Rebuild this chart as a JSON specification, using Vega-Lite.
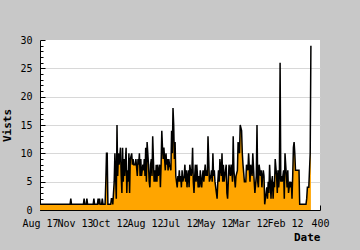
{
  "$schema": "https://vega.github.io/schema/vega-lite/v6.json",
  "width": 280,
  "height": 170,
  "autosize": {"type": "none"},
  "padding": {"left": 40, "top": 40, "right": 40, "bottom": 40},
  "background": "#c8c8c8",
  "config": {
    "view": {"fill": "white", "stroke": null},
    "font": "DejaVu Sans Mono",
    "axis": {"labelColor": "black", "titleColor": "black", "domainColor": "black", "tickColor": "black", "labelFont": "DejaVu Sans Mono", "titleFont": "DejaVu Sans Mono"},
    "axisX": {"labelOverlap": false, "labelFlush": false, "labelBound": false}
  },
  "data": {"values": [
    {"i":0,"v":1},{"i":43,"v":1},{"i":44,"v":2},{"i":45,"v":1},{"i":62,"v":1},{"i":63,"v":2},{"i":64,"v":1},{"i":66,"v":1},{"i":67,"v":2},{"i":68,"v":1},
    {"i":76,"v":1},{"i":77,"v":2},{"i":78,"v":1},{"i":82,"v":1},{"i":83,"v":2},{"i":84,"v":1},{"i":85,"v":2},{"i":86,"v":1},{"i":88,"v":1},{"i":89,"v":2},{"i":90,"v":1},
    {"i":93,"v":1},{"i":94,"v":5},{"i":95,"v":10},{"i":96,"v":10},{"i":97,"v":1},{"i":101,"v":1},
    {"i":102,"v":2},{"i":103,"v":2},{"i":104,"v":1},{"i":106,"v":5},{"i":107,"v":10},{"i":108,"v":6},{"i":109,"v":2},{"i":110,"v":15},
    {"i":111,"v":6},{"i":112,"v":10},{"i":113,"v":8},{"i":115,"v":11},{"i":116,"v":6},{"i":117,"v":3},{"i":118,"v":11},{"i":119,"v":5},{"i":120,"v":9},{"i":121,"v":6},
    {"i":123,"v":11},{"i":124,"v":3},{"i":125,"v":7},{"i":126,"v":5},{"i":127,"v":10},{"i":128,"v":3},{"i":129,"v":9},{"i":131,"v":10},{"i":132,"v":8},{"i":133,"v":9},
    {"i":134,"v":8},{"i":135,"v":8},{"i":136,"v":8},{"i":137,"v":9},{"i":139,"v":6},{"i":140,"v":9},{"i":141,"v":8},{"i":142,"v":10},{"i":143,"v":6},{"i":144,"v":9},
    {"i":145,"v":6},{"i":147,"v":8},{"i":148,"v":7},{"i":149,"v":9},{"i":150,"v":6},{"i":151,"v":11},{"i":152,"v":5},{"i":153,"v":12},{"i":155,"v":8},{"i":156,"v":5},
    {"i":157,"v":4},{"i":158,"v":8},{"i":159,"v":9},{"i":160,"v":6},{"i":161,"v":13},{"i":163,"v":5},{"i":164,"v":7},{"i":165,"v":5},{"i":166,"v":8},{"i":167,"v":5},
    {"i":168,"v":8},{"i":169,"v":6},{"i":171,"v":8},{"i":172,"v":4},{"i":173,"v":8},{"i":174,"v":14},{"i":175,"v":11},{"i":176,"v":9},{"i":177,"v":11},{"i":179,"v":7},
    {"i":180,"v":10},{"i":181,"v":8},{"i":182,"v":9},{"i":183,"v":7},{"i":184,"v":9},{"i":185,"v":8},{"i":187,"v":7},{"i":188,"v":14},{"i":189,"v":10},{"i":190,"v":18},
    {"i":191,"v":15},{"i":192,"v":9},{"i":193,"v":12},{"i":194,"v":6},{"i":196,"v":4},{"i":197,"v":6},{"i":198,"v":5},{"i":199,"v":7},{"i":200,"v":5},{"i":201,"v":6},
    {"i":202,"v":4},{"i":203,"v":7},{"i":204,"v":5},{"i":206,"v":6},{"i":207,"v":8},{"i":208,"v":5},{"i":209,"v":7},{"i":210,"v":4},{"i":211,"v":6},{"i":212,"v":7},
    {"i":213,"v":4},{"i":214,"v":8},{"i":216,"v":6},{"i":217,"v":7},{"i":218,"v":11},{"i":219,"v":5},{"i":220,"v":3},{"i":221,"v":6},{"i":222,"v":8},{"i":223,"v":5},
    {"i":224,"v":8},{"i":226,"v":4},{"i":227,"v":6},{"i":228,"v":4},{"i":229,"v":7},{"i":230,"v":5},{"i":231,"v":4},{"i":232,"v":6},{"i":233,"v":7},{"i":234,"v":5},
    {"i":236,"v":8},{"i":237,"v":6},{"i":238,"v":7},{"i":239,"v":6},{"i":240,"v":13},
    {"i":241,"v":9},{"i":242,"v":5},{"i":244,"v":6},{"i":245,"v":7},{"i":246,"v":5},{"i":247,"v":10},{"i":248,"v":6},{"i":249,"v":7},{"i":250,"v":5},{"i":252,"v":3},
    {"i":253,"v":2},{"i":254,"v":5},{"i":255,"v":7},{"i":256,"v":5},{"i":257,"v":9},{"i":259,"v":6},{"i":260,"v":10},{"i":261,"v":5},{"i":262,"v":8},{"i":263,"v":5},
    {"i":265,"v":7},{"i":266,"v":8},{"i":267,"v":3},{"i":268,"v":2},{"i":269,"v":5},{"i":270,"v":8},{"i":272,"v":6},{"i":273,"v":8},{"i":274,"v":7},{"i":275,"v":5},
    {"i":276,"v":13},{"i":277,"v":7},{"i":279,"v":4},{"i":280,"v":6},{"i":282,"v":7},{"i":283,"v":12},{"i":285,"v":10},{"i":286,"v":15},
    {"i":288,"v":14},{"i":289,"v":10},{"i":290,"v":8},{"i":292,"v":5},{"i":294,"v":5},{"i":295,"v":8},{"i":297,"v":7},{"i":298,"v":10},{"i":300,"v":5},{"i":301,"v":8},
    {"i":303,"v":6},{"i":304,"v":10},{"i":306,"v":5},{"i":307,"v":3},{"i":309,"v":6},{"i":310,"v":15},
    {"i":311,"v":5},{"i":312,"v":4},{"i":313,"v":8},{"i":315,"v":6},{"i":316,"v":7},{"i":317,"v":4},{"i":318,"v":6},{"i":319,"v":7},{"i":320,"v":6},{"i":321,"v":1},
    {"i":323,"v":3},{"i":324,"v":4},{"i":325,"v":2},{"i":326,"v":5},{"i":327,"v":3},{"i":328,"v":8},{"i":330,"v":2},{"i":331,"v":5},{"i":332,"v":6},{"i":333,"v":2},
    {"i":334,"v":5},{"i":335,"v":4},{"i":336,"v":9},{"i":338,"v":6},{"i":339,"v":3},{"i":340,"v":7},{"i":341,"v":4},{"i":342,"v":6},{"i":343,"v":26},
    {"i":344,"v":5},{"i":345,"v":6},{"i":346,"v":5},{"i":348,"v":7},{"i":349,"v":2},{"i":350,"v":10},{"i":352,"v":6},{"i":353,"v":4},{"i":354,"v":7},{"i":355,"v":3},
    {"i":357,"v":5},{"i":358,"v":4},{"i":359,"v":5},{"i":360,"v":2},{"i":361,"v":6},{"i":362,"v":11},{"i":363,"v":12},{"i":364,"v":10},{"i":365,"v":7},{"i":368,"v":7},
    {"i":370,"v":7},{"i":371,"v":1},{"i":380,"v":1},{"i":381,"v":2},{"i":382,"v":4},{"i":384,"v":4},{"i":386,"v":10},{"i":387,"v":29}
  ]},
  "layer": [
    {
      "mark": {"type": "area", "color": "#ffa500"},
      "encoding": {
        "x": {"field": "i", "type": "quantitative", "scale": {"domain": [0, 400], "nice": false},
          "axis": {"values": [0,50,100,150,200,250,300,350,400], "tickSize": -5, "labelPadding": 13, "grid": false,
            "labelExpr": "['Aug 17','Nov 13','Oct 12','Aug 12','Jul 12','May 12','Mar 12','Feb 12','400'][round(datum.value/50)]",
            "labelOverlap": false, "labelFlush": false, "labelBound": false, "labelFontSize": 10,
            "title": "Date", "titleFontSize": 11, "titleFontWeight": "bold", "titleAnchor": "end", "titlePadding": 3}},
        "y": {"field": "v", "type": "quantitative", "scale": {"domain": [0, 30], "nice": false},
          "axis": {"values": [0,5,10,15,20,25,30], "tickSize": -5, "labelPadding": 13, "grid": true, "gridColor": "#d8d8d8",
            "gridOpacity": {"condition": {"test": "datum.value == 30", "value": 0}, "value": 1},
            "labelFontSize": 10, "title": "Vists", "titleFontSize": 11, "titleFontWeight": "bold", "titlePadding": 7}}
      }
    },
    {
      "mark": {"type": "line", "color": "black", "strokeWidth": 1.5},
      "encoding": {
        "x": {"field": "i", "type": "quantitative",
          "axis": {"values": [0,50,100,150,200,250,300,350,400], "tickSize": -5, "labelPadding": 13, "grid": false,
            "labelExpr": "['Aug 17','Nov 13','Oct 12','Aug 12','Jul 12','May 12','Mar 12','Feb 12','400'][round(datum.value/50)]",
            "labelOverlap": false, "labelFlush": false, "labelBound": false, "labelFontSize": 10,
            "title": "Date", "titleFontSize": 11, "titleFontWeight": "bold", "titleAnchor": "end", "titlePadding": 3}},
        "y": {"field": "v", "type": "quantitative",
          "axis": {"orient": "left", "values": [1,2,3,4,6,7,8,9,11,12,13,14,16,17,18,19,21,22,23,24,26,27,28,29], "tickSize": -3, "labels": false, "domain": false, "grid": false, "title": null}}
      }
    }
  ],
  "resolve": {"axis": {"y": "independent"}}
}
